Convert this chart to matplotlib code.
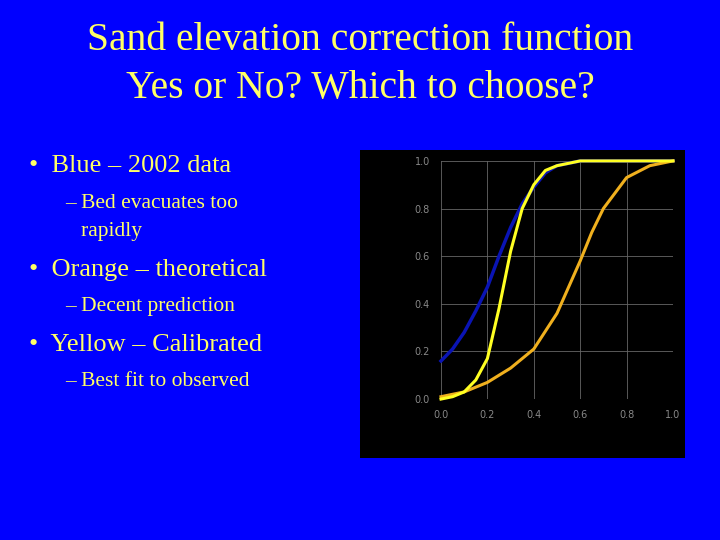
import numpy as np
import matplotlib
matplotlib.use("Agg")
import matplotlib.pyplot as plt
from matplotlib.patches import Rectangle

blue_x = [0.0, 0.05, 0.1, 0.15, 0.2, 0.25, 0.3, 0.35, 0.4, 0.45, 0.5, 0.6, 0.7, 0.8, 0.9, 1.0]
blue_y = [0.16, 0.21, 0.28, 0.37, 0.47, 0.60, 0.72, 0.82, 0.89, 0.95, 0.98, 1.0, 1.0, 1.0, 1.0, 1.0]
yel_x = [0.0, 0.05, 0.1, 0.15, 0.2, 0.25, 0.3, 0.35, 0.4, 0.45, 0.5, 0.6, 0.7, 0.8, 0.9, 1.0]
yel_y = [0.0, 0.01, 0.03, 0.08, 0.17, 0.38, 0.62, 0.80, 0.90, 0.96, 0.98, 1.0, 1.0, 1.0, 1.0, 1.0]
ora_x = [0.0, 0.1, 0.2, 0.3, 0.4, 0.5, 0.55, 0.6, 0.65, 0.7, 0.8, 0.9, 1.0]
ora_y = [0.01, 0.03, 0.07, 0.13, 0.21, 0.36, 0.47, 0.58, 0.70, 0.80, 0.93, 0.98, 1.0]
ticks = [0.0, 0.2, 0.4, 0.6, 0.8, 1.0]

fig = plt.figure(figsize=(7.2, 5.4), dpi=100)
fig.patch.set_facecolor("#0000FF")
ser = ["Liberation Serif", "DejaVu Serif"]
tc = "#FFFF66"
fig.text(0.5, 0.925, "Sand elevation correction function", ha="center", va="center", fontsize=28.5, color=tc, family=ser)
fig.text(0.5, 0.836, "Yes or No? Which to choose?", ha="center", va="center", fontsize=28.5, color=tc, family=ser)

items = [(0.04, 0.692, "•  Blue – 2002 data", 19),
         (0.09, 0.624, "– Bed evacuates too", 15.5),
         (0.09, 0.572, "   rapidly", 15.5),
         (0.04, 0.500, "•  Orange – theoretical", 19),
         (0.09, 0.432, "– Decent prediction", 15.5),
         (0.04, 0.362, "•  Yellow – Calibrated", 19),
         (0.09, 0.294, "– Best fit to observed", 15.5)]
for x, y, s, fs in items:
    fig.text(x, y, s, ha="left", va="center", fontsize=fs, color=tc, family=ser)

fig.patches.append(Rectangle((0.5, 0.152), 0.451, 0.570, transform=fig.transFigure,
                             facecolor="black", edgecolor="none", zorder=-1))

ax = fig.add_axes([0.6125, 0.261, 0.3222, 0.441], zorder=2)
ax.set_facecolor("black")
for s in ax.spines.values():
    s.set_visible(False)
ax.set_xlim(0, 1)
ax.set_ylim(0, 1)
ax.set_xticks(ticks)
ax.set_yticks(ticks)
ax.set_xticklabels([f"{t:.1f}" for t in ticks])
ax.set_yticklabels([f"{t:.1f}" for t in ticks])
ax.tick_params(colors="#555555", labelcolor="#888888", labelsize=7, length=0, pad=8)
ax.grid(True, color="#666666", linewidth=0.6)
ax.plot(blue_x, blue_y, color="#0A14B4", linewidth=2.5, clip_on=False)
ax.plot(ora_x, ora_y, color="#F0B01E", linewidth=2.2, clip_on=False)
ax.plot(yel_x, yel_y, color="#FFFF22", linewidth=2.2, clip_on=False)
fig.savefig("out.png", dpi=100, facecolor=fig.get_facecolor())
